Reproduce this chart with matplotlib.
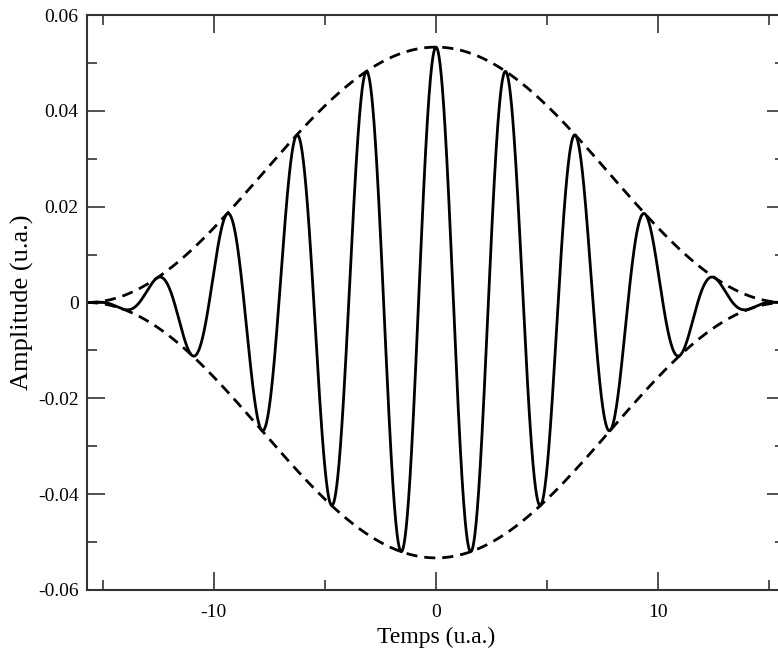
import numpy as np
import matplotlib
matplotlib.use("Agg")
import matplotlib.pyplot as plt
from matplotlib.ticker import MultipleLocator, FixedLocator

# Parameters
amplitude = 0.0533          # peak of the envelope at t = 0
envelope_halfspan = 5 * np.pi  # envelope falls to zero at +/- this time
carrier_omega = 2.0         # maxima at 0, +/-pi, +/-2pi ... -> cos(2t)
x_limits = [-5 * np.pi, 5 * np.pi]
y_limits = [-0.06, 0.06]
x_major_ticks = [-10, 0, 10]
y_major_ticks = [-0.06, -0.04, -0.02, 0, 0.02, 0.04, 0.06]
y_tick_labels = ["-0.06", "-0.04", "-0.02", "0", "0.02", "0.04", "0.06"]
x_tick_labels = ["-10", "0", "10"]

t = np.linspace(x_limits[0], x_limits[1], 4000)
envelope = amplitude * np.cos(np.pi * t / (2 * envelope_halfspan)) ** 2
signal = envelope * np.cos(carrier_omega * t)

plt.rcParams['font.family'] = ['Liberation Serif', 'DejaVu Serif']
fig = plt.figure(figsize=(7.78, 6.52), dpi=100)
W, H = 778, 652
left, right, top, bottom = 87, 785, 15, 590
ax = fig.add_axes([left / W, 1 - bottom / H, (right - left) / W, (bottom - top) / H])

ax.plot(t, signal, color='black', lw=2.0)
ax.plot(t, envelope, color='black', lw=2.0, ls=(0, (4, 2.5)))
ax.plot(t, -envelope, color='black', lw=2.0, ls=(0, (4, 2.5)))

ax.set_xlim(x_limits)
ax.set_ylim(y_limits)
ax.xaxis.set_major_locator(FixedLocator(x_major_ticks))
ax.set_xticklabels(x_tick_labels)
ax.xaxis.set_minor_locator(MultipleLocator(5))
ax.yaxis.set_major_locator(FixedLocator(y_major_ticks))
ax.set_yticklabels(y_tick_labels)
ax.yaxis.set_minor_locator(MultipleLocator(0.01))

ax.tick_params(which='both', direction='in', top=True, right=True, width=1.2,
               labelsize=14, color='#333333')
ax.tick_params(which='major', length=13)
ax.tick_params(axis='x', which='major', pad=10)
ax.tick_params(axis='y', which='major', pad=6)
ax.tick_params(which='minor', length=7)
for s in ax.spines.values():
    s.set_linewidth(1.5)
    s.set_color('#333333')

ax.set_xlabel("Temps (u.a.)", fontsize=17, labelpad=4)
ax.set_ylabel("Amplitude (u.a.)", fontsize=19, labelpad=3)

fig.savefig("out.png", dpi=100)
